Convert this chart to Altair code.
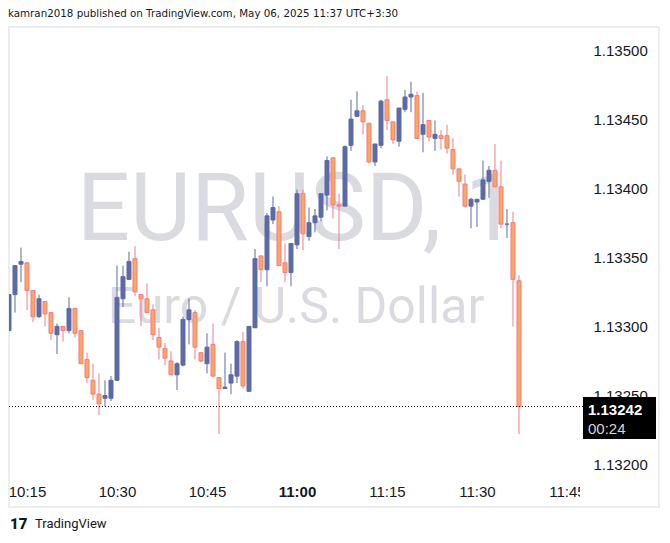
import altair as alt
import pandas as pd

# ---- data: EURUSD 1-minute candles, 10:12 .. 11:37 ----
first_minute = 12  # minutes after 10:00 of the first candle

opens = [1.13297, 1.13323, 1.13345, 1.13346, 1.13326, 1.13307, 1.13318, 1.13310, 1.13294, 1.13300,
         1.13297, 1.13313, 1.13297, 1.13276, 1.13261, 1.13251, 1.13248, 1.13248, 1.13261, 1.13320,
         1.13334, 1.13349, 1.13323, 1.13320, 1.13312, 1.13292, 1.13284, 1.13275, 1.13265, 1.13272,
         1.13305, 1.13310, 1.13281, 1.13273, 1.13287, 1.13263, 1.13255, 1.13259, 1.13264, 1.13289,
         1.13253, 1.13299, 1.13351, 1.13341, 1.13377, 1.13383, 1.13346, 1.13339, 1.13359, 1.13396,
         1.13365, 1.13375, 1.13379, 1.13395, 1.13422, 1.13388, 1.13387, 1.13431, 1.13452, 1.13456,
         1.13447, 1.13419, 1.13431, 1.13464, 1.13448, 1.13434, 1.13457, 1.13466, 1.13467, 1.13439,
         1.13449, 1.13436, 1.13438, 1.13438, 1.13428, 1.13414, 1.13403, 1.13387, 1.13390, 1.13392,
         1.13405, 1.13413, 1.13401, 1.13374, 1.13375, 1.13333]
highs = [1.13323, 1.13344, 1.13357, 1.13346, 1.13326, 1.13323, 1.13318, 1.13310, 1.13302, 1.13300,
         1.13321, 1.13313, 1.13297, 1.13281, 1.13273, 1.13266, 1.13261, 1.13264, 1.13344, 1.13344,
         1.13354, 1.13358, 1.13323, 1.13331, 1.13316, 1.13299, 1.13288, 1.13282, 1.13274, 1.13307,
         1.13320, 1.13312, 1.13281, 1.13295, 1.13302, 1.13263, 1.13281, 1.13273, 1.13290, 1.13296,
         1.13300, 1.13356, 1.13351, 1.13382, 1.13394, 1.13387, 1.13360, 1.13360, 1.13399, 1.13399,
         1.13386, 1.13385, 1.13396, 1.13423, 1.13422, 1.13396, 1.13431, 1.13464, 1.13470, 1.13460,
         1.13447, 1.13432, 1.13464, 1.13481, 1.13448, 1.13458, 1.13471, 1.13477, 1.13470, 1.13469,
         1.13449, 1.13449, 1.13442, 1.13446, 1.13436, 1.13414, 1.13410, 1.13393, 1.13392, 1.13420,
         1.13416, 1.13432, 1.13420, 1.13385, 1.13383, 1.13337]
lows = [1.13297, 1.13310, 1.13332, 1.13312, 1.13303, 1.13306, 1.13300, 1.13290, 1.13280, 1.13289,
        1.13295, 1.13292, 1.13273, 1.13259, 1.13247, 1.13236, 1.13242, 1.13246, 1.13261, 1.13314,
        1.13334, 1.13322, 1.13300, 1.13310, 1.13290, 1.13276, 1.13272, 1.13265, 1.13254, 1.13271,
        1.13287, 1.13276, 1.13274, 1.13266, 1.13264, 1.13222, 1.13255, 1.13251, 1.13259, 1.13255,
        1.13253, 1.13299, 1.13332, 1.13329, 1.13374, 1.13344, 1.13332, 1.13329, 1.13356, 1.13355,
        1.13362, 1.13368, 1.13376, 1.13384, 1.13378, 1.13356, 1.13387, 1.13427, 1.13452, 1.13439,
        1.13418, 1.13416, 1.13429, 1.13442, 1.13432, 1.13430, 1.13455, 1.13455, 1.13436, 1.13426,
        1.13434, 1.13427, 1.13428, 1.13425, 1.13410, 1.13394, 1.13386, 1.13371, 1.13372, 1.13392,
        1.13393, 1.13401, 1.13371, 1.13364, 1.13300, 1.13222]
closes = [1.13323, 1.13344, 1.13347, 1.13326, 1.13307, 1.13320, 1.13309, 1.13295, 1.13300, 1.13297,
          1.13313, 1.13295, 1.13273, 1.13263, 1.13251, 1.13244, 1.13250, 1.13261, 1.13321, 1.13336,
          1.13347, 1.13325, 1.13320, 1.13310, 1.13294, 1.13285, 1.13277, 1.13265, 1.13273, 1.13305,
          1.13312, 1.13285, 1.13275, 1.13285, 1.13264, 1.13255, 1.13256, 1.13265, 1.13289, 1.13257,
          1.13300, 1.13349, 1.13341, 1.13380, 1.13386, 1.13344, 1.13339, 1.13360, 1.13396, 1.13367,
          1.13375, 1.13380, 1.13396, 1.13420, 1.13388, 1.13387, 1.13430, 1.13450, 1.13456, 1.13448,
          1.13419, 1.13432, 1.13463, 1.13449, 1.13435, 1.13458, 1.13466, 1.13468, 1.13436, 1.13446,
          1.13437, 1.13439, 1.13436, 1.13429, 1.13414, 1.13405, 1.13387, 1.13392, 1.13392, 1.13406,
          1.13413, 1.13401, 1.13374, 1.13374, 1.13334, 1.13242]

price_ticks = [1.132, 1.1325, 1.133, 1.1335, 1.134, 1.1345, 1.135]
time_ticks = [15, 30, 45, 60, 75, 90, 105]   # minutes after 10:00
last_price = closes[-1]
countdown = "00:24"

title_text = "kamran2018 published on TradingView.com, May 06, 2025 11:37 UTC+3:30"
symbol_text = "EURUSD,  1"
desc_text = "Euro / U.S. Dollar"

# ---- build table ----
df = pd.DataFrame({
    "t": [first_minute + i for i in range(len(opens))],
    "open": opens, "high": highs, "low": lows, "close": closes,
})
df["dir"] = ["up" if c >= o else "down" for o, c in zip(opens, closes)]

BLUE = "#5c6ba6"
ORANGE = "#f9a95b"
PINK = "#f27a8a"
FONT = "Liberation Sans"

xscale = alt.Scale(domain=[12.0, 107.1667], nice=False, zero=False, padding=0)
yscale = alt.Scale(domain=[1.131903, 1.1351592], nice=False, zero=False, padding=0)

xaxis = alt.Axis(
    values=time_ticks, title=None, ticks=False, tickSize=0, domain=False, grid=False,
    labelExpr="(10 + floor(datum.value / 60)) + ':' + (datum.value % 60 < 10 ? '0' : '') + (datum.value % 60)",
    labelFontSize=15, labelFont=FONT, labelColor="#131722", labelPadding=6,
    labelOverlap=False, labelFlush=False,
    labelFontWeight={"condition": {"test": "datum.value == 60", "value": "bold"}, "value": "normal"},
)
yaxis = alt.Axis(
    values=price_ticks, format=".5f", orient="right", title=None, ticks=False, tickSize=0,
    domain=False, grid=False, labelFontSize=15, labelFont=FONT, labelColor="#131722",
    labelPadding=13, labelOverlap=False, labelFlush=False,
)

one = pd.DataFrame({"k": [0]})

frame = alt.Chart(one).mark_rect(filled=False, stroke="#e6e7eb", strokeWidth=1.5).encode(
    x=alt.value(0), x2=alt.value(650), y=alt.value(-1), y2=alt.value(479))

wm1 = alt.Chart(one).mark_text(text=symbol_text, font="Roboto", fontSize=94, color="#dadbe0",
                               align="center", baseline="alphabetic").encode(
    x=alt.value(288), y=alt.value(212))
wm2 = alt.Chart(one).mark_text(text=desc_text, font="Roboto", fontSize=50, color="#dadbe0",
                               align="center", baseline="alphabetic").encode(
    x=alt.value(287), y=alt.value(295))

wicks = alt.Chart(df).mark_rule(strokeWidth=1, clip=True).encode(
    x=alt.X("t:Q", scale=xscale, axis=xaxis),
    y=alt.Y("low:Q", scale=yscale, axis=yaxis),
    y2="high:Q",
    color=alt.Color("dir:N", scale=alt.Scale(domain=["up", "down"], range=[BLUE, PINK]), legend=None),
)
bodies = alt.Chart(df).mark_bar(size=4, strokeWidth=1, clip=True).encode(
    x=alt.X("t:Q", scale=xscale, axis=xaxis),
    y=alt.Y("open:Q", scale=yscale, axis=yaxis),
    y2="close:Q",
    fill=alt.Fill("dir:N", scale=alt.Scale(domain=["up", "down"], range=[BLUE, ORANGE]), legend=None),
    stroke=alt.Stroke("dir:N", scale=alt.Scale(domain=["up", "down"], range=[BLUE, PINK]), legend=None),
)

dotted = alt.Chart(one).mark_rule(color="#000000", strokeWidth=1, strokeDash=[1, 2]).encode(
    x=alt.value(0), x2=alt.value(574), y=alt.datum(last_price))

box = alt.Chart(one).mark_rect(color="#000000").encode(
    x=alt.value(574), x2=alt.value(647),
    y=alt.datum(last_price + 0.00007), y2=alt.datum(last_price - 0.000235))
box_t1 = alt.Chart(one).mark_text(text=f"{last_price:.5f}", font=FONT, fontSize=15, fontWeight="bold",
                                  color="#ffffff", align="left", baseline="middle", dy=3).encode(
    x=alt.value(579), y=alt.datum(last_price))
box_t2 = alt.Chart(one).mark_text(text=countdown, font=FONT, fontSize=15,
                                  color="#d6d6d6", align="left", baseline="middle", dy=22).encode(
    x=alt.value(579), y=alt.datum(last_price))

cover = alt.Chart(one).mark_rect(color="#ffffff").encode(
    x=alt.value(571), x2=alt.value(648), y=alt.value(452), y2=alt.value(476))

title = alt.Chart(one).mark_text(text=title_text, font="DejaVu Sans", fontSize=10.3, color="#131722",
                                 align="left", baseline="middle").encode(
    x=alt.value(-1), y=alt.value(-14.5))
logo = alt.Chart(one).mark_text(text="17", font="Roboto", fontSize=15, fontWeight=900, color="#131722",
                                align="left", baseline="middle").encode(
    x=alt.value(1), y=alt.value(496))
footer = alt.Chart(one).mark_text(text="TradingView", font="Roboto", fontSize=13, color="#131722",
                                  align="left", baseline="middle").encode(
    x=alt.value(26), y=alt.value(496))

chart = alt.layer(
    frame, wm1, wm2, wicks, bodies, dotted, box, box_t1, box_t2, cover, title, logo, footer
).properties(
    width=571, height=450,
    padding={"left": 1, "top": 20, "right": 80, "bottom": 56},
    autosize=alt.AutoSizeParams(type="none"),
).configure_view(stroke=None)

chart.save("out.html", embed_options={"renderer": "svg", "actions": False})
